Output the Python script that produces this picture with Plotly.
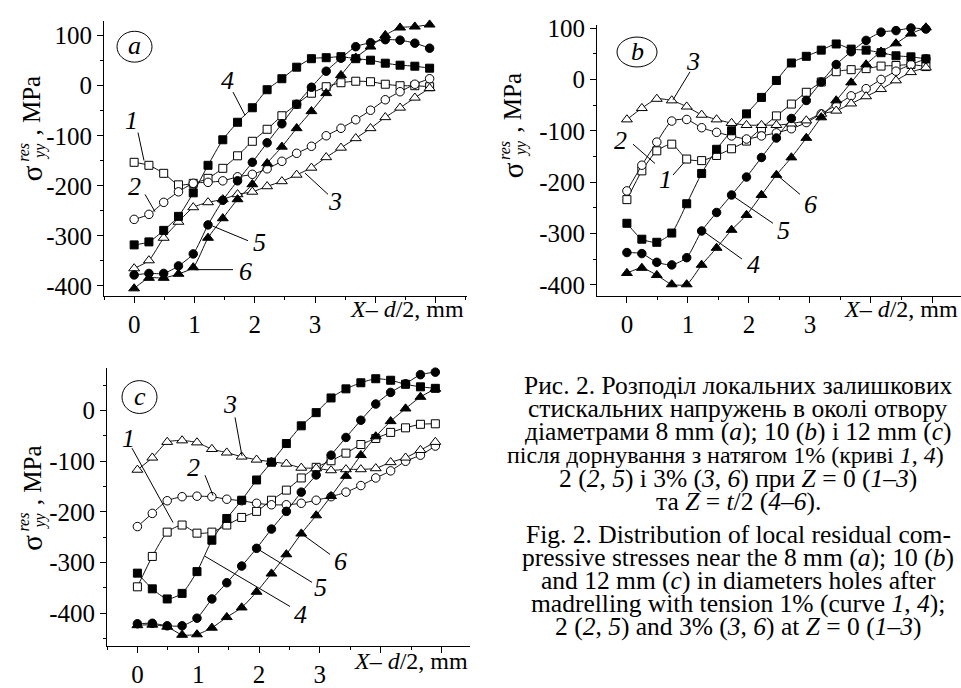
import plotly.graph_objects as go

# ---------------- data ----------------
X_MM = [0, 0.245, 0.49, 0.735, 0.98, 1.225, 1.47, 1.715, 1.96, 2.205, 2.45,
        2.695, 2.94, 3.185, 3.43, 3.675, 3.92, 4.165, 4.41, 4.655, 4.9]

# panel (a)
A1 = [-153, -159, -175, -198, -195, -185, -165, -140, -111, -87, -60, -37, -15, -2, 6, 9, 8, 3, 0, 0, -2]
A2 = [-267, -257, -233, -212, -195, -193, -190, -182, -177, -166, -151, -135, -121, -100, -85, -68, -49, -28, -12, 3, 14]
A3 = [-365, -349, -304, -272, -243, -233, -227, -217, -212, -201, -191, -178, -164, -143, -124, -105, -85, -63, -44, -24, -5]
A4 = [-318, -312, -289, -261, -214, -159, -108, -73, -44, -8, 14, 37, 54, 56, 58, 54, 51, 45, 41, 39, 35]
A5 = [-378, -375, -375, -360, -336, -278, -229, -190, -153, -114, -76, -37, -3, 29, 55, 78, 86, 92, 91, 85, 75]
A6 = [-405, -384, -384, -376, -363, -304, -265, -227, -197, -155, -122, -85, -51, -15, 21, 56, 78, 101, 116, 118, 122]

# panel (b)
B1 = [-234, -178, -139, -126, -155, -158, -148, -135, -120, -95, -71, -48, -25, -5, 15, 19, 21, 26, 27, 29, 25]
B2 = [-217, -167, -122, -81, -78, -94, -103, -110, -116, -110, -104, -96, -84, -67, -50, -32, -18, 0, 16, 29, 40]
B3 = [-78, -56, -38, -41, -53, -69, -78, -85, -89, -89, -89, -86, -80, -67, -61, -47, -33, -19, -2, 14, 23]
B4 = [-280, -311, -317, -299, -242, -183, -136, -100, -67, -35, -2, 32, 45, 57, 69, 59, 57, 52, 46, 44, 40]
B5 = [-337, -339, -356, -361, -347, -295, -259, -225, -190, -152, -114, -76, -41, -5, 29, 54, 76, 92, 95, 100, 98]
B6 = [-377, -367, -381, -399, -399, -361, -328, -293, -264, -225, -186, -152, -114, -74, -41, -6, 29, 54, 70, 89, 101]

# panel (c)
C1 = [-348, -288, -240, -226, -242, -240, -226, -211, -199, -177, -157, -133, -112, -99, -84, -67, -55, -43, -34, -27, -26]
C2 = [-229, -203, -178, -170, -169, -170, -175, -178, -183, -186, -186, -183, -177, -170, -161, -148, -133, -119, -100, -88, -70]
C3 = [-117, -93, -62, -59, -63, -76, -83, -91, -97, -101, -105, -113, -114, -118, -116, -116, -114, -102, -93, -78, -62]
C4 = [-321, -352, -372, -361, -318, -256, -213, -177, -137, -102, -65, -30, -4, 25, 43, 55, 63, 60, 52, 47, 44]
C5 = [-421, -420, -425, -425, -410, -372, -340, -307, -272, -234, -199, -161, -127, -88, -53, -19, 13, 36, 53, 71, 76]
C6 = [-424, -423, -427, -443, -442, -429, -408, -389, -358, -322, -284, -243, -207, -169, -129, -88, -51, -21, 4, 27, 43]

Y_TICKS_AB = [-400, -300, -200, -100, 0, 100]
Y_TICKS_C = [-400, -300, -200, -100, 0]
X_TICKS = [0, 1, 2, 3, 4, 5]
X_TICK_TEXT = ["0", "1", "2", "3", "", ""]

CAPTION_UA = [
    "Рис. 2. Розподіл локальних залишкових",
    "стискальних напружень в околі отвору",
    "діаметрами 8 mm (<i>a</i>); 10 (<i>b</i>) і 12 mm (<i>c</i>)",
    "після дорнування з натягом 1% (криві <i>1</i>, <i>4</i>)",
    "2 (<i>2</i>, <i>5</i>) і 3% (<i>3</i>, <i>6</i>) при <i>Z</i> = 0 (<i>1–3</i>)",
    "та <i>Z</i> = <i>t</i>/2 (<i>4–6</i>).",
]
CAPTION_EN = [
    "Fig. 2. Distribution of local residual com-",
    "pressive stresses near the 8 mm (<i>a</i>); 10 (<i>b</i>)",
    "and 12 mm (<i>c</i>) in diameters holes after",
    "madrelling with tension 1% (curve <i>1</i>, <i>4</i>);",
    "2 (<i>2</i>, <i>5</i>) and 3% (<i>3</i>, <i>6</i>) at <i>Z</i> = 0 (<i>1–3</i>)",
]

# ---------------- layout helpers ----------------
W, H = 961, 688
SERIF = "Liberation Serif"


def px(x):
    return x / W


def py(y):
    return 1 - y / H


SYMBOLS = {1: ("square", "white", 8), 2: ("circle", "white", 8.5), 3: ("triangle-up", "white", 9.5),
           4: ("square", "black", 8), 5: ("circle", "black", 8.5), 6: ("triangle-up", "black", 9.5)}

fig = go.Figure()

panels = [
    ("x", "y", [A1, A2, A3, A4, A5, A6]),
    ("x2", "y2", [B1, B2, B3, B4, B5, B6]),
    ("x3", "y3", [C1, C2, C3, C4, C5, C6]),
]
for xa, ya, curves in panels:
    for k, ys in enumerate(curves, start=1):
        sym, fill, size = SYMBOLS[k]
        fig.add_trace(go.Scatter(
            x=X_MM, y=ys, xaxis=xa, yaxis=ya, mode="lines+markers",
            line=dict(color="#111", width=1, shape="spline", smoothing=0.6),
            marker=dict(symbol=sym, size=size, color=fill, line=dict(color="black", width=1)),
            showlegend=False, cliponaxis=False,
        ))


def xaxis_cfg(domain, rng, anchor):
    return dict(domain=domain, range=rng, anchor=anchor, showline=True, linecolor="black", linewidth=1,
                ticks="outside", ticklen=6, tickwidth=1, tickcolor="black",
                tickmode="array", tickvals=X_TICKS, ticktext=X_TICK_TEXT,
                minor=dict(ticks="outside", ticklen=3, tickwidth=1, tickcolor="black", dtick=0.5, tick0=0),
                showgrid=False, zeroline=False,
                tickfont=dict(family=SERIF, size=25, color="black"))


def yaxis_cfg(domain, rng, tv, anchor):
    return dict(domain=domain, range=rng, anchor=anchor, showline=True, linecolor="black", linewidth=1,
                ticks="outside", ticklen=6, tickwidth=1, tickcolor="black",
                tickmode="array", tickvals=tv, ticktext=[str(v) for v in tv],
                minor=dict(ticks="outside", ticklen=3, tickwidth=1, tickcolor="black", dtick=50, tick0=0),
                showgrid=False, zeroline=False,
                tickfont=dict(family=SERIF, size=25, color="black"))


fig.update_layout(
    width=W, height=H, margin=dict(l=0, r=0, t=0, b=0),
    paper_bgcolor="white", plot_bgcolor="white", showlegend=False,
    xaxis=xaxis_cfg([px(104), px(467)], [-0.5, 5.52], "y"),
    yaxis=yaxis_cfg([py(295), py(10)], [-419.5, 130], Y_TICKS_AB, "x"),
    xaxis2=xaxis_cfg([px(597), 1.0], [-0.49, 5.475], "y2"),
    yaxis2=yaxis_cfg([py(295), py(15)], [-421, 105], Y_TICKS_AB, "x2"),
    xaxis3=xaxis_cfg([px(107), px(470)], [-0.5, 5.47], "y3"),
    yaxis3=yaxis_cfg([py(658), py(370)], [-465, 84], Y_TICKS_C, "x3"),
)

annotations = []
shapes = []


def text(x, y, s, size=24, italic=False, angle=0, xanchor="center"):
    if italic:
        s = "<i>" + s + "</i>"
    annotations.append(dict(x=px(x), y=py(y), xref="paper", yref="paper", text=s, showarrow=False,
                            font=dict(family=SERIF, size=size, color="black"), textangle=angle,
                            xanchor=xanchor, yanchor="middle"))


def line(x0, y0, x1, y1):
    shapes.append(dict(type="line", xref="paper", yref="paper", x0=px(x0), y0=py(y0), x1=px(x1), y1=py(y1),
                       line=dict(color="black", width=1)))


# y-axis titles (sigma with stacked res / yy)
for (sx, sy) in [(32, 168), (513, 165), (32, 551)]:
    text(sx, sy, "σ", size=29, angle=-90)
    text(sx - 8, sy - 21, "<i>res</i>", size=16, angle=-90)
    text(sx + 8, sy - 22, "<i>yy</i>", size=16, angle=-90)
    text(sx, sy - 70, ", MPa", size=25, angle=-90)

# x-axis titles
for (tx, ty) in [(466, 309), (960, 309), (470, 674)]:
    text(tx, ty, "<i>X</i>– <i>d</i>/2, mm", size=24, xanchor="right")

# circled panel letters
for (x0, y0, x1, y1, s) in [(117, 21, 152, 53, "a"), (617, 27, 657, 58, "b"), (122, 383, 157, 417, "c")]:
    shapes.append(dict(type="circle", xref="paper", yref="paper", x0=px(x0), x1=px(x1), y0=py(y1), y1=py(y0),
                       line=dict(color="black", width=1)))
    text((x0 + x1) / 2, (y0 + y1) / 2 - 1, s, size=26, italic=True)

# curve labels with leader lines
labels = [
    # panel a
    ("1", 131, 113, (138, 126, 144, 155)),
    ("2", 134, 182, (145, 190, 155, 208)),
    ("4", 227, 72, (233, 84, 245, 108)),
    ("3", 335, 197, (305, 168, 328, 190)),
    ("5", 259, 240, (213, 223, 248, 238)),
    ("6", 245, 270, (195, 268, 233, 268)),
    # panel b
    ("3", 693, 52, (690, 63, 673, 92)),
    ("2", 620, 134, (633, 138, 655, 158)),
    ("1", 665, 175, (673, 170, 684, 157)),
    ("4", 753, 263, (703, 228, 742, 257)),
    ("5", 783, 227, (732, 191, 773, 220)),
    ("6", 810, 200, (777, 170, 800, 190)),
    # panel c
    ("1", 128, 443, (132, 453, 173, 530)),
    ("2", 193, 473, (205, 481, 213, 502)),
    ("3", 230, 408, (235, 421, 242, 461)),
    ("4", 300, 625, (205, 565, 290, 617)),
    ("5", 320, 597, (257, 557, 312, 592)),
    ("6", 340, 570, (302, 542, 330, 563)),
]
for s, tx, ty, (x0, y0, x1, y1) in labels:
    text(tx, ty, s, size=26, italic=True)
    line(x0, y0, x1, y1)

# captions
for i, s in enumerate(CAPTION_UA):
    if i == 3:
        text(725, 388 + 24 * i, s, size=24)
    else:
        text(738, 388 + 24 * i, s, size=25.5)
for i, s in enumerate(CAPTION_EN):
    text(738, 542 + 24 * i, s, size=25.5)

fig.update_layout(annotations=annotations, shapes=shapes)
fig.write_html("out.html")
